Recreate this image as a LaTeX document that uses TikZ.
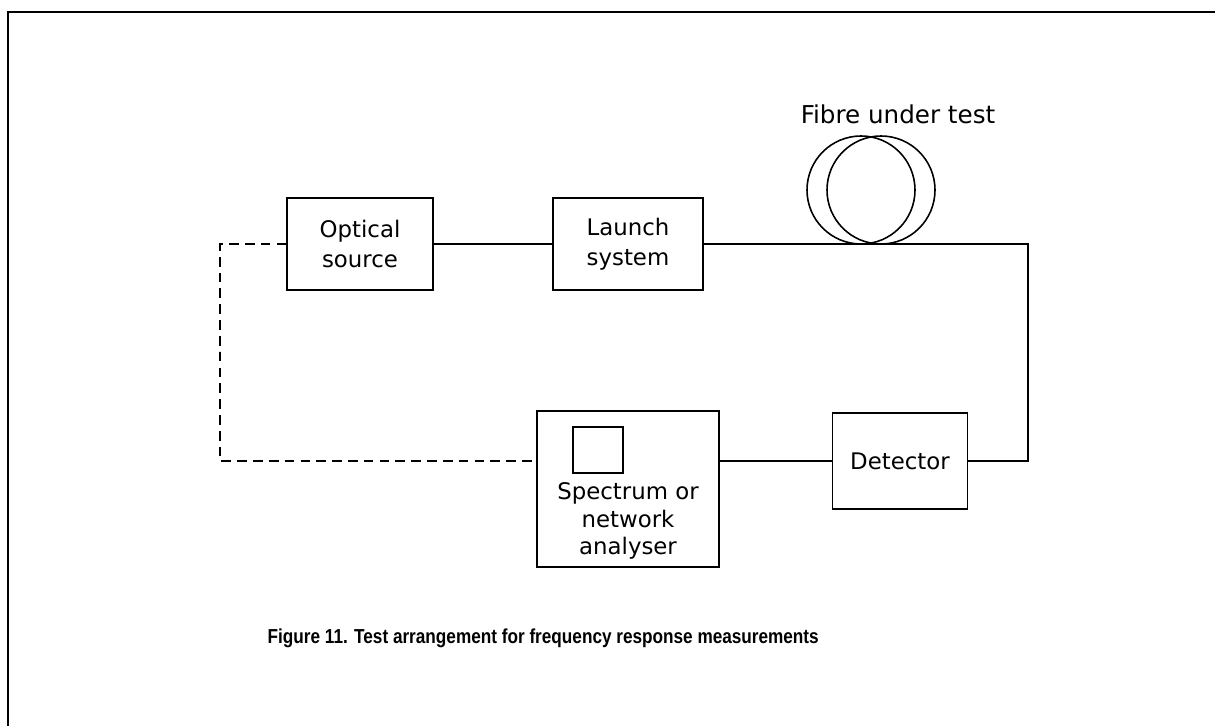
\documentclass[tikz,border=0pt]{standalone}
\usepackage{fontspec}
\setmainfont{DejaVu Sans}
\newfontfamily\capfont{Liberation Sans}[FakeStretch=0.85]
\usetikzlibrary{positioning, calc}
\tikzset{
  every picture/.style={line width=0.9pt},
  blk/.style={draw, align=center, inner sep=0pt, font=\fontsize{13}{17}\selectfont},
  wire/.style={draw, line width=0.9pt},
  ctrl/.style={wire, dash pattern=on 5.5pt off 3.5pt},
  coil/.style={draw, circle, minimum size=21.6mm, inner sep=0pt},
  figcap/.style={font=\capfont\bfseries\fontsize{11.5}{14}\selectfont, anchor=west},
}

\begin{document}
\begin{tikzpicture}[x=0.2mm, y=-0.2mm]
  \useasboundingbox (0,0) rectangle (1215,726);
  % page frame
  \draw (1215,12) -- (8,12) -- (8,726);
  % top row
  \node[blk, minimum width=29.2mm, minimum height=18.4mm] (src) at (360,244) {Optical\\source};
  \node[blk, minimum width=30mm, minimum height=18.4mm] (launch) at (628,244) {Launch\\system};
  \node[coil] (coilA) at (861,190) {};
  \node[coil] (coilB) at (881,190) {};
  \node[font=\fontsize{14}{17}\selectfont] (fibre) at (898,114) {Fibre under test};
  % bottom row
  \node[blk, minimum width=36.4mm, minimum height=31.2mm] (ana) at (628,489) {};
  \node[draw, minimum width=10mm, minimum height=9.2mm, inner sep=0pt] (scr) at (598,450) {};
  \node[align=center, font=\fontsize{13}{15.5}\selectfont] (anatxt) at (628,521) {Spectrum or\\network\\analyser};
  \node[blk, minimum width=27mm, minimum height=19.2mm] (det) at (900,461) {Detector};
  % links
  \coordinate (turn) at (1028,353);
  \coordinate (ctl) at (220,352);
  \draw[wire] (src.east) -- (launch.west);
  \draw[wire] (launch.east) -| (turn) |- (det.east);
  \draw[wire] (det.west) -- (det.west -| ana.east);
  \draw[ctrl] (src.west) -| (ctl) |- (det.west -| ana.west);
  \node[figcap] (caption) at (261,638) {Figure 11. Test arrangement for frequency response measurements};
\end{tikzpicture}
\end{document}
